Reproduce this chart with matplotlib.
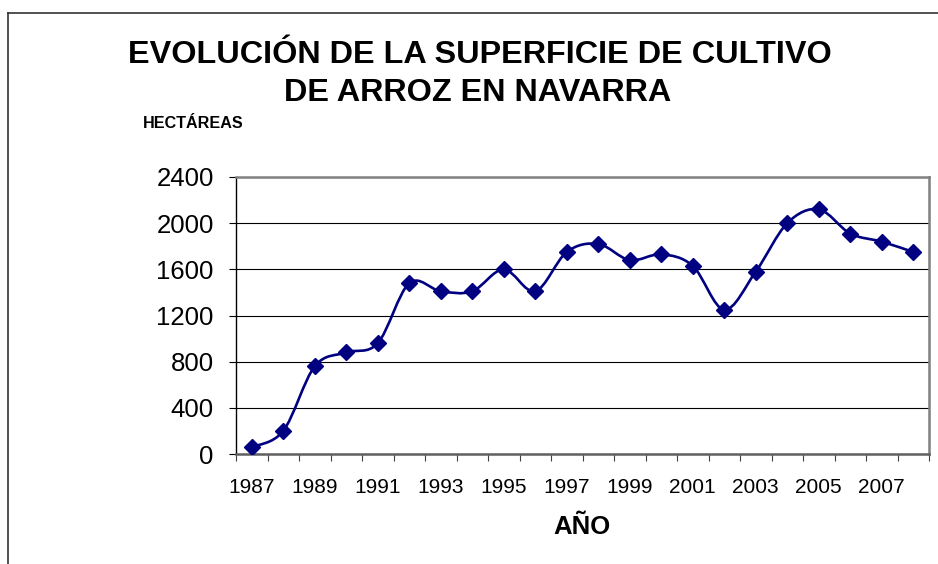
import matplotlib
matplotlib.use("Agg")
import matplotlib.pyplot as plt
from matplotlib.path import Path
from matplotlib.patches import PathPatch
from matplotlib.lines import Line2D
import numpy as np

plt.rcParams['font.family'] = ['Liberation Sans', 'DejaVu Sans']

years = list(range(1987, 2009))
hectareas = [60, 200, 760, 880, 960, 1480, 1410, 1410, 1600, 1410, 1750,
             1820, 1680, 1730, 1630, 1250, 1580, 2000, 2120, 1910, 1840, 1750]
y_ticks = [0, 400, 800, 1200, 1600, 2000, 2400]

title_line1 = "EVOLUCIÓN DE LA SUPERFICIE DE CULTIVO"
title_line2 = "DE ARROZ EN NAVARRA"
ylabel_text = "HECTÁREAS"
xlabel_text = "AÑO"

W, H = 938, 564
fig = plt.figure(figsize=(W / 100, H / 100), dpi=100)
ax = fig.add_axes([236 / W, 1 - 454 / H, (929 - 236) / W, (454 - 177) / H])

x = np.arange(len(years))
y = np.array(hectareas, dtype=float)

# smoothed line (Catmull-Rom style Bezier through the data points)
verts = [(x[0], y[0])]
codes = [Path.MOVETO]
n = len(x)
for i in range(n - 1):
    p0 = np.array([x[max(i - 1, 0)], y[max(i - 1, 0)]])
    p1 = np.array([x[i], y[i]])
    p2 = np.array([x[i + 1], y[i + 1]])
    p3 = np.array([x[min(i + 2, n - 1)], y[min(i + 2, n - 1)]])
    c1 = p1 + (p2 - p0) / 6.0
    c2 = p2 - (p3 - p1) / 6.0
    verts += [tuple(c1), tuple(c2), tuple(p2)]
    codes += [Path.CURVE4] * 3
ax.add_patch(PathPatch(Path(verts, codes), facecolor='none', edgecolor='#000080',
                       lw=1.9, zorder=3))
ax.plot(x, y, linestyle='none', marker='D', markersize=8.5, color='#000080',
        zorder=4)

ax.set_xlim(-0.5, len(years) - 0.5)
ax.set_ylim(0, 2400)
ax.set_yticks(y_ticks)
ax.set_yticklabels([str(v) for v in y_ticks], fontsize=18.5)
ax.yaxis.grid(True, color='black', lw=0.8)
ax.set_axisbelow(True)

ax.set_xticks(np.arange(-0.5, len(years), 1.0))
ax.set_xticklabels([])
ax.set_xticks(x[::2], minor=True)
ax.set_xticklabels([str(v) for v in years[::2]], minor=True, fontsize=15)
ax.tick_params(axis='x', which='major', length=5, direction='out', color='#404040')
ax.tick_params(axis='x', which='minor', length=0, pad=17)
ax.tick_params(axis='y', length=5, direction='out', pad=11)

for side in ['top', 'right']:
    ax.spines[side].set_color('#808080')
    ax.spines[side].set_linewidth(1.8)
ax.spines['bottom'].set_color('#606060')
ax.spines['bottom'].set_linewidth(1.8)
ax.spines['left'].set_color('black')
ax.spines['left'].set_linewidth(1.0)

fig.text(480 / W, 1 - 63 / H, title_line1, ha='center', va='baseline',
         fontsize=23.3, fontweight='bold')
fig.text(478 / W, 1 - 101 / H, title_line2, ha='center', va='baseline',
         fontsize=23.3, fontweight='bold')
fig.text(143 / W, 1 - 128 / H, ylabel_text, ha='left', va='baseline',
         fontsize=11.6, fontweight='bold')
fig.text(582 / W, 1 - 534 / H, xlabel_text, ha='center', va='baseline',
         fontsize=18.5, fontweight='bold')

fig.add_artist(Line2D([8 / W, 8 / W], [0, 1 - 13 / H], transform=fig.transFigure,
                      color='#333333', lw=1.2))
fig.add_artist(Line2D([8 / W, 1], [1 - 13 / H, 1 - 13 / H], transform=fig.transFigure,
                      color='#333333', lw=1.2))

fig.savefig('out.png', dpi=100)
